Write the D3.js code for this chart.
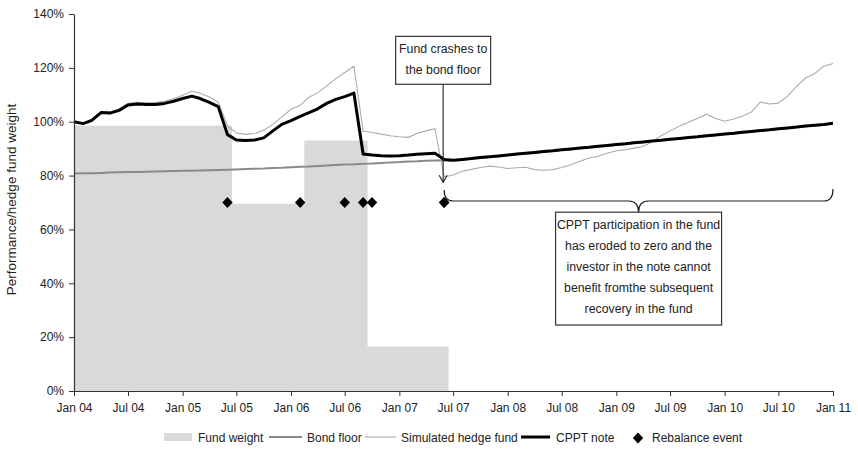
<!DOCTYPE html>
<html><head><meta charset="utf-8">
<script src="https://cdn.jsdelivr.net/npm/d3@7"></script>
<style>
body{margin:0;background:#fff}
svg text{font-family:Arial,"Liberation Sans",Helvetica,sans-serif;fill:#222}
</style>
</head><body>
<svg id="chart" width="858" height="458"></svg>
<script>
// ---------------- DATA ----------------
// monthly observations, Jan 2004 .. Jan 2011 (85 months)
const monthDates = d3.timeMonth.range(new Date(2004,0,1), new Date(2011,0,2));

const fundWeight = [
  98.5,98.5,98.5,98.5,98.5,98.5,98.5,98.5,98.5,98.5,98.5,98.5,98.5,98.5,98.5,98.5,98.5,98.5,
  69.5,69.5,69.5,69.5,69.5,69.5,69.5,69.5,
  93,93,93,93,93,93,93,
  16.5,16.5,16.5,16.5,16.5,16.5,16.5,16.5,16.5,
  0,0,0,0,0,0,0,0,0,0,0,0,0,0,0,0,0,0,0,0,0,0,0,0,0,0,0,0,0,0,0,0,0,0,0,0,0,0,0,0,0,0,0
];

const bondFloor = [
  80.8,80.9,80.9,81.0,81.1,81.2,81.3,81.3,81.4,81.5,81.6,81.7,81.8,81.8,81.9,82.0,82.1,82.2,
  82.3,82.4,82.5,82.6,82.8,82.9,83.1,83.3,83.4,83.6,83.7,83.9,84.1,84.2,84.4,84.5,84.7,84.9,
  85.0,85.2,85.3,85.5,85.6,85.7,85.6,85.9,86.2,86.6,86.9,87.2,87.5,87.9,88.2,88.5,88.8,89.1,
  89.5,89.8,90.1,90.4,90.8,91.1,91.4,91.7,92.1,92.4,92.7,93.0,93.4,93.7,94.0,94.3,94.7,95.0,
  95.3,95.6,96.0,96.3,96.6,96.9,97.3,97.6,97.9,98.3,98.6,98.9,99.3
];

const simulatedFund = [
  100.0,99.4,100.8,103.8,103.6,104.7,106.8,107.2,107.0,107.1,107.6,108.5,109.8,111.3,110.6,109.2,107.3,98.5,
  95.8,95.3,95.6,96.8,99.0,101.8,104.6,106.1,109.0,110.7,113.3,116.0,118.3,120.6,96.5,96.0,95.4,94.8,
  94.4,94.2,95.6,96.6,97.4,79.5,80.2,81.6,82.3,83.0,83.5,83.2,82.6,82.9,83.1,82.2,82.0,82.2,
  83.0,84.0,85.3,86.5,87.2,88.3,89.2,89.6,90.2,90.8,92.5,94.8,96.6,98.3,99.8,101.2,102.8,101.2,
  100.2,101.0,102.0,103.6,107.3,106.6,106.9,109.5,113.2,116.3,117.9,120.6,121.6
];

const cpptNote = [
  100.0,99.3,100.5,103.4,103.2,104.2,106.2,106.6,106.4,106.4,106.8,107.6,108.6,109.5,108.6,107.2,105.6,95.2,
  93.2,93.0,93.2,94.0,96.6,99.0,100.4,102.0,103.3,104.8,106.8,108.3,109.3,110.6,88.0,87.6,87.4,87.3,
  87.4,87.6,87.9,88.1,88.3,86.0,85.7,86.0,86.3,86.7,87.0,87.3,87.6,88.0,88.3,88.6,88.9,89.2,
  89.6,89.9,90.2,90.5,90.9,91.2,91.5,91.8,92.2,92.5,92.8,93.1,93.5,93.8,94.1,94.4,94.8,95.1,
  95.4,95.7,96.1,96.4,96.7,97.0,97.4,97.7,98.0,98.4,98.7,99.0,99.4
];

const rebalanceMonths = ["2005-06","2006-02","2006-07","2006-09","2006-10","2007-06"];
const rebalanceLevel = 70;

const yTicks = [0,20,40,60,80,100,120,140];
const xTickLabels = ["Jan 04","Jul 04","Jan 05","Jul 05","Jan 06","Jul 06","Jan 07","Jul 07",
                     "Jan 08","Jul 08","Jan 09","Jul 09","Jan 10","Jul 10","Jan 11"];
const yAxisTitle = "Performance/hedge fund weight";
const legendLabels = ["Fund weight","Bond floor","Simulated hedge fund","CPPT note","Rebalance event"];
const crashNote = ["Fund crashes to","the bond floor"];
const recoveryNote = ["CPPT participation in the fund","has eroded to zero and the",
                      "investor in the note cannot","benefit fromthe subsequent","recovery in the fund"];

// ---------------- CHART ----------------
const svg = d3.select("#chart");
const parseM = d3.timeParse("%Y-%m");
const x = d3.scaleTime().domain([new Date(2004,0,1), new Date(2011,0,1)]).range([74, 833]);
const y = d3.scaleLinear().domain([0, 140]).range([391, 14]);

const C = {area:"#d9d9d9", floor:"#8a8a8a", sim:"#ababab", cppt:"#000", axis:"#333"};

// fund weight area
svg.append("path")
  .datum(fundWeight)
  .attr("fill", C.area)
  .attr("d", d3.area().curve(d3.curveStep)
      .x((d,i)=>x(monthDates[i])).y0(y(0)).y1(d=>y(d)));

// lines
const line = arr => d3.line().x((d,i)=>x(monthDates[i])).y(d=>y(d))(arr);
svg.append("path").attr("d", line(bondFloor)).attr("fill","none")
  .attr("stroke", C.floor).attr("stroke-width", 2);
svg.append("path").attr("d", line(simulatedFund)).attr("fill","none")
  .attr("stroke", C.sim).attr("stroke-width", 1.1);
svg.append("path").attr("d", line(cpptNote)).attr("fill","none")
  .attr("stroke", C.cppt).attr("stroke-width", 3).attr("stroke-linejoin","round");

// axes
const xAxis = d3.axisBottom(x)
  .tickValues(d3.timeMonth.every(6).range(new Date(2004,0,1), new Date(2011,0,2)))
  .tickFormat((d,i)=>xTickLabels[i]).tickSize(5).tickPadding(7).tickSizeOuter(0);
const gx = svg.append("g").attr("transform", `translate(0,${y(0)})`).call(xAxis);
const yAxis = d3.axisLeft(y).tickValues(yTicks).tickFormat(d=>d+"%")
  .tickSize(5).tickPadding(5).tickSizeOuter(0);
const gy = svg.append("g").attr("transform", `translate(${x(new Date(2004,0,1))},0)`).call(yAxis);
[gx, gy].forEach(g=>{
  g.selectAll(".domain").attr("stroke", C.axis).attr("stroke-width", 1.2);
  g.selectAll(".tick line").attr("stroke", C.axis);
  g.selectAll("text").attr("font-size", 12).attr("fill", "#222")
   .style("font-family","Arial, 'Liberation Sans', sans-serif");
});

// rebalance diamonds (squat rhombus like the reference)
const diamond = "M0,-5.5L5.2,0L0,5.5L-5.2,0Z";
svg.append("g").selectAll("path").data(rebalanceMonths).join("path")
  .attr("d", diamond)
  .attr("transform", d=>`translate(${x(parseM(d))},${y(rebalanceLevel)})`)
  .attr("fill", "#000");

// y axis title
svg.append("text")
  .attr("transform", `translate(16,${(y(0)+y(140))/2 - 3}) rotate(-90)`)
  .attr("text-anchor","middle").attr("font-size", 13.5)
  .text(yAxisTitle);

// ---- annotation 1 : fund crash
const crashDate = parseM(rebalanceMonths[5]);
const cx1 = x(crashDate) - 1;
const b1 = {w:95, top:y(131.7), bot:y(113.9)};
svg.append("rect").attr("x", cx1 - b1.w/2).attr("y", b1.top)
  .attr("width", b1.w).attr("height", b1.bot-b1.top)
  .attr("fill","#fff").attr("stroke","#333").attr("stroke-width",1.2);
svg.append("g").selectAll("text").data(crashNote).join("text")
  .attr("x", cx1).attr("y",(d,i)=>b1.top + 17 + i*21)
  .attr("text-anchor","middle").attr("font-size",12.3).text(d=>d);
const arrowTip = y(77.5);
svg.append("line").attr("x1",cx1).attr("x2",cx1).attr("y1",b1.bot).attr("y2",arrowTip)
  .attr("stroke","#222").attr("stroke-width",1.1);
svg.append("path").attr("d",`M${cx1-4},${arrowTip-7}L${cx1},${arrowTip}L${cx1+4},${arrowTip-7}`)
  .attr("fill","none").attr("stroke","#222").attr("stroke-width",1.1);

// ---- brace from crash to end
const bx0 = x(crashDate), bx1 = x(new Date(2011,0,1));
const by = y(rebalanceLevel) - 1.5, bmid = (bx0 + bx1)/2;
const b2 = {w:166, top:y(66.4), bot:y(24.5)};
svg.append("path")
  .attr("d", `M${bx0},${by-11} Q${bx0},${by} ${bx0+9},${by} L${bmid-10},${by} Q${bmid},${by} ${bmid},${b2.top}
              Q${bmid},${by} ${bmid+10},${by} L${bx1-9},${by} Q${bx1},${by} ${bx1},${by-12}`)
  .attr("fill","none").attr("stroke","#222").attr("stroke-width",1.2);
// re-draw crash diamond above brace
svg.append("path").attr("d", diamond)
  .attr("transform", `translate(${x(crashDate)},${y(rebalanceLevel)})`).attr("fill","#000");

// ---- annotation 2 box
svg.append("rect").attr("x", bmid - b2.w/2).attr("y", b2.top)
  .attr("width", b2.w).attr("height", b2.bot-b2.top)
  .attr("fill","#fff").attr("stroke","#333").attr("stroke-width",1.2);
svg.append("g").selectAll("text").data(recoveryNote).join("text")
  .attr("x", bmid).attr("y",(d,i)=>b2.top + 17 + i*21)
  .attr("text-anchor","middle").attr("font-size",12.3).text(d=>d);

// ---- legend
const ly = 437;
const lg = svg.append("g");
lg.append("rect").attr("x",164).attr("y",ly-4).attr("width",28).attr("height",8).attr("fill",C.area);
lg.append("line").attr("x1",269).attr("x2",302).attr("y1",ly).attr("y2",ly).attr("stroke",C.floor).attr("stroke-width",2);
lg.append("line").attr("x1",365).attr("x2",396).attr("y1",ly).attr("y2",ly).attr("stroke",C.sim).attr("stroke-width",1.1);
lg.append("line").attr("x1",521).attr("x2",550).attr("y1",ly).attr("y2",ly).attr("stroke",C.cppt).attr("stroke-width",3);
lg.append("path").attr("d",diamond).attr("transform",`translate(638,${ly+1})`).attr("fill","#000");
const lx = [198,307,401,556,652];
lg.selectAll("text.lbl").data(legendLabels).join("text").attr("class","lbl")
  .attr("x",(d,i)=>lx[i]).attr("y",ly+4.5).attr("font-size",12).text(d=>d);
</script>
</body></html>
